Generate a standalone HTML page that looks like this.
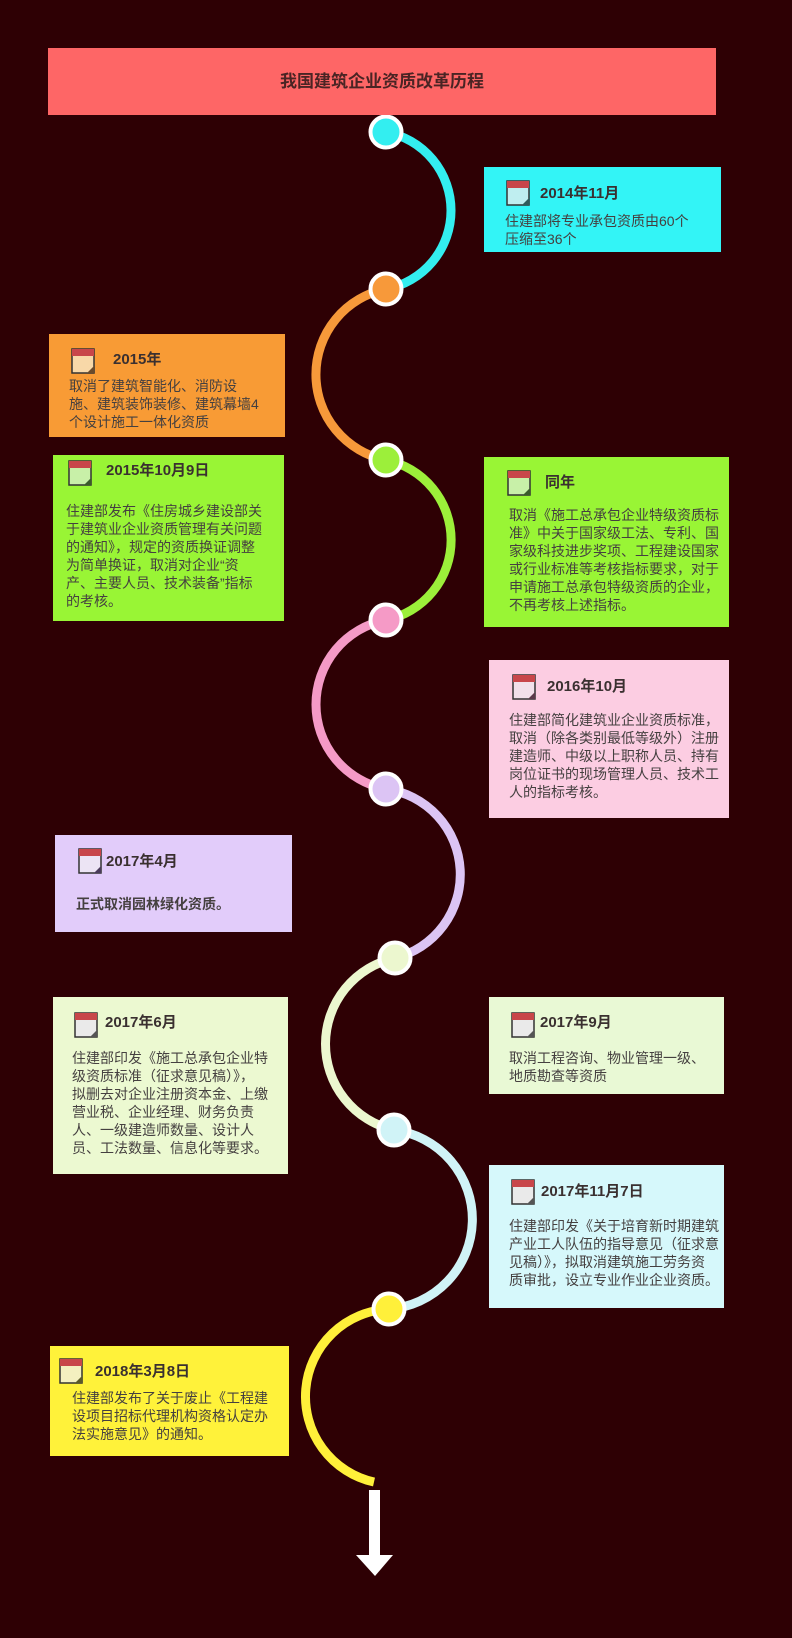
<!DOCTYPE html>
<html><head><meta charset="utf-8"><style>
*{margin:0;padding:0;box-sizing:border-box}
body{width:792px;height:1638px;background:#2e0004;position:relative;overflow:hidden;font-family:"Liberation Sans","Noto Sans CJK SC",sans-serif}
.t{position:absolute;left:48px;top:48px;width:668px;height:67px;background:#fe6666;color:#4a2424;font-weight:bold;font-size:17px;text-align:center;line-height:67px}
.b{position:absolute}
.b .tt{position:absolute;font-weight:bold;font-size:15px;color:#3a3030;line-height:20px;white-space:nowrap}
.b .tx{position:absolute;font-size:14px;color:#454040;line-height:18px;white-space:nowrap}
.ic{position:absolute;width:24px;height:26px}
svg.main{position:absolute;left:0;top:0}
</style></head><body>
<svg class="main" width="792" height="1638">
<g fill="none" stroke-width="9">
<path d="M386 132 A79.9 79.9 0 0 1 386 289" stroke="#33eef0"/>
<path d="M386 289 A87.2 87.2 0 0 0 386 460" stroke="#f7993a"/>
<path d="M386 460 A81.7 81.7 0 0 1 386 620" stroke="#9cef3a"/>
<path d="M386 620 A86 86 0 0 0 386 789" stroke="#f59ac6"/>
<path d="M386 789 A86.2 86.2 0 0 1 395 958" stroke="#dcc4f4"/>
<path d="M395 958 A88.1 88.1 0 0 0 394 1130" stroke="#ecf7cf"/>
<path d="M394 1130 A90 90 0 0 1 389 1309" stroke="#d0f3f7"/>
<path d="M389 1309 A87.6 87.6 0 0 0 374 1482" stroke="#fff03a"/>
</g>
<g stroke="#fff" stroke-width="4">
<circle cx="386" cy="132" r="15.5" fill="#33eef0"/>
<circle cx="386" cy="289" r="15.5" fill="#f7993a"/>
<circle cx="386" cy="460" r="15.5" fill="#9cef3a"/>
<circle cx="386" cy="620" r="15.5" fill="#f59ac6"/>
<circle cx="386" cy="789" r="15.5" fill="#dcc4f4"/>
<circle cx="395" cy="958" r="15.5" fill="#ecf7cf"/>
<circle cx="394" cy="1130" r="15.5" fill="#d0f3f7"/>
<circle cx="389" cy="1309" r="15.5" fill="#fff03a"/>
</g>
<rect x="369" y="1490" width="11" height="67" fill="#fff"/>
<polygon points="356,1555 393,1555 375,1576" fill="#fff"/>
</svg>
<div class="t">我国建筑企业资质改革历程</div>

<div class="b" style="left:484px;top:167px;width:237px;height:85px;background:#33f4f6">
<svg class="ic" style="left:22px;top:13px"><rect x="1" y="1" width="22" height="24" fill="#bfeef0" stroke="#333" stroke-width="1.5"/><rect x="1" y="1" width="22" height="7" fill="#c8464a"/><polygon points="16,25 23,18 23,25" fill="#2e5b5b"/></svg>
<div class="tt" style="left:56px;top:17px">2014年11月</div>
<div class="tx" style="left:21px;top:45px">住建部将专业承包资质由60个<br>压缩至36个</div></div>

<div class="b" style="left:49px;top:334px;width:236px;height:103px;background:#f89b35">
<svg class="ic" style="left:22px;top:14px"><rect x="1" y="1" width="22" height="24" fill="#f8d8a8" stroke="#333" stroke-width="1.5"/><rect x="1" y="1" width="22" height="7" fill="#c8464a"/><polygon points="16,25 23,18 23,25" fill="#6b4a2a"/></svg>
<div class="tt" style="left:64px;top:16px">2015年</div>
<div class="tx" style="left:20px;top:43px">取消了建筑智能化、消防设<br>施、建筑装饰装修、建筑幕墙4<br>个设计施工一体化资质</div></div>

<div class="b" style="left:53px;top:455px;width:231px;height:166px;background:#99f535">
<svg class="ic" style="left:15px;top:5px"><rect x="1" y="1" width="22" height="24" fill="#c8f0a8" stroke="#333" stroke-width="1.5"/><rect x="1" y="1" width="22" height="7" fill="#c8464a"/><polygon points="16,25 23,18 23,25" fill="#3a5b2a"/></svg>
<div class="tt" style="left:53px;top:6px">2015年10月9日</div>
<div class="tx" style="left:13px;top:47px">住建部发布《住房城乡建设部关<br>于建筑业企业资质管理有关问题<br>的通知》，规定的资质换证调整<br>为简单换证，取消对企业“资<br>产、主要人员、技术装备”指标<br>的考核。</div></div>

<div class="b" style="left:484px;top:457px;width:245px;height:170px;background:#99f535">
<svg class="ic" style="left:23px;top:13px"><rect x="1" y="1" width="22" height="24" fill="#c8f0a8" stroke="#333" stroke-width="1.5"/><rect x="1" y="1" width="22" height="7" fill="#c8464a"/><polygon points="16,25 23,18 23,25" fill="#3a5b2a"/></svg>
<div class="tt" style="left:61px;top:16px">同年</div>
<div class="tx" style="left:25px;top:49px">取消《施工总承包企业特级资质标<br>准》中关于国家级工法、专利、国<br>家级科技进步奖项、工程建设国家<br>或行业标准等考核指标要求，对于<br>申请施工总承包特级资质的企业，<br>不再考核上述指标。</div></div>

<div class="b" style="left:489px;top:660px;width:240px;height:158px;background:#fccde2">
<svg class="ic" style="left:23px;top:14px"><rect x="1" y="1" width="22" height="24" fill="#f2e0ea" stroke="#333" stroke-width="1.5"/><rect x="1" y="1" width="22" height="7" fill="#c8464a"/><polygon points="16,25 23,18 23,25" fill="#5b3a4a"/></svg>
<div class="tt" style="left:58px;top:17px">2016年10月</div>
<div class="tx" style="left:20px;top:51px">住建部简化建筑业企业资质标准，<br>取消（除各类别最低等级外）注册<br>建造师、中级以上职称人员、持有<br>岗位证书的现场管理人员、技术工<br>人的指标考核。</div></div>

<div class="b" style="left:55px;top:835px;width:237px;height:97px;background:#e2ccfa">
<svg class="ic" style="left:23px;top:13px"><rect x="1" y="1" width="22" height="24" fill="#ece4f4" stroke="#333" stroke-width="1.5"/><rect x="1" y="1" width="22" height="7" fill="#c8464a"/><polygon points="16,25 23,18 23,25" fill="#4a3a5b"/></svg>
<div class="tt" style="left:51px;top:17px">2017年4月</div>
<div class="tx" style="left:21px;top:60px;font-weight:bold">正式取消园林绿化资质。</div></div>

<div class="b" style="left:53px;top:997px;width:235px;height:177px;background:#ecf9d1">
<svg class="ic" style="left:21px;top:15px"><rect x="1" y="1" width="22" height="24" fill="#eaeaea" stroke="#333" stroke-width="1.5"/><rect x="1" y="1" width="22" height="7" fill="#c8464a"/><polygon points="16,25 23,18 23,25" fill="#555"/></svg>
<div class="tt" style="left:52px;top:16px">2017年6月</div>
<div class="tx" style="left:19px;top:52px">住建部印发《施工总承包企业特<br>级资质标准（征求意见稿）》，<br>拟删去对企业注册资本金、上缴<br>营业税、企业经理、财务负责<br>人、一级建造师数量、设计人<br>员、工法数量、信息化等要求。</div></div>

<div class="b" style="left:489px;top:997px;width:235px;height:97px;background:#e9f9d5">
<svg class="ic" style="left:22px;top:15px"><rect x="1" y="1" width="22" height="24" fill="#eaeaea" stroke="#333" stroke-width="1.5"/><rect x="1" y="1" width="22" height="7" fill="#c8464a"/><polygon points="16,25 23,18 23,25" fill="#555"/></svg>
<div class="tt" style="left:51px;top:16px">2017年9月</div>
<div class="tx" style="left:20px;top:52px">取消工程咨询、物业管理一级、<br>地质勘查等资质</div></div>

<div class="b" style="left:489px;top:1165px;width:235px;height:143px;background:#d6f8fb">
<svg class="ic" style="left:22px;top:14px"><rect x="1" y="1" width="22" height="24" fill="#eaeaea" stroke="#333" stroke-width="1.5"/><rect x="1" y="1" width="22" height="7" fill="#c8464a"/><polygon points="16,25 23,18 23,25" fill="#555"/></svg>
<div class="tt" style="left:52px;top:17px">2017年11月7日</div>
<div class="tx" style="left:20px;top:52px">住建部印发《关于培育新时期建筑<br>产业工人队伍的指导意见（征求意<br>见稿）》，拟取消建筑施工劳务资<br>质审批，设立专业作业企业资质。</div></div>

<div class="b" style="left:50px;top:1346px;width:239px;height:110px;background:#fff23a">
<svg class="ic" style="left:9px;top:12px"><rect x="1" y="1" width="22" height="24" fill="#f4f0c0" stroke="#333" stroke-width="1.5"/><rect x="1" y="1" width="22" height="7" fill="#c8464a"/><polygon points="16,25 23,18 23,25" fill="#5b5a2a"/></svg>
<div class="tt" style="left:45px;top:16px">2018年3月8日</div>
<div class="tx" style="left:22px;top:43px">住建部发布了关于废止《工程建<br>设项目招标代理机构资格认定办<br>法实施意见》的通知。</div></div>
</body></html>
